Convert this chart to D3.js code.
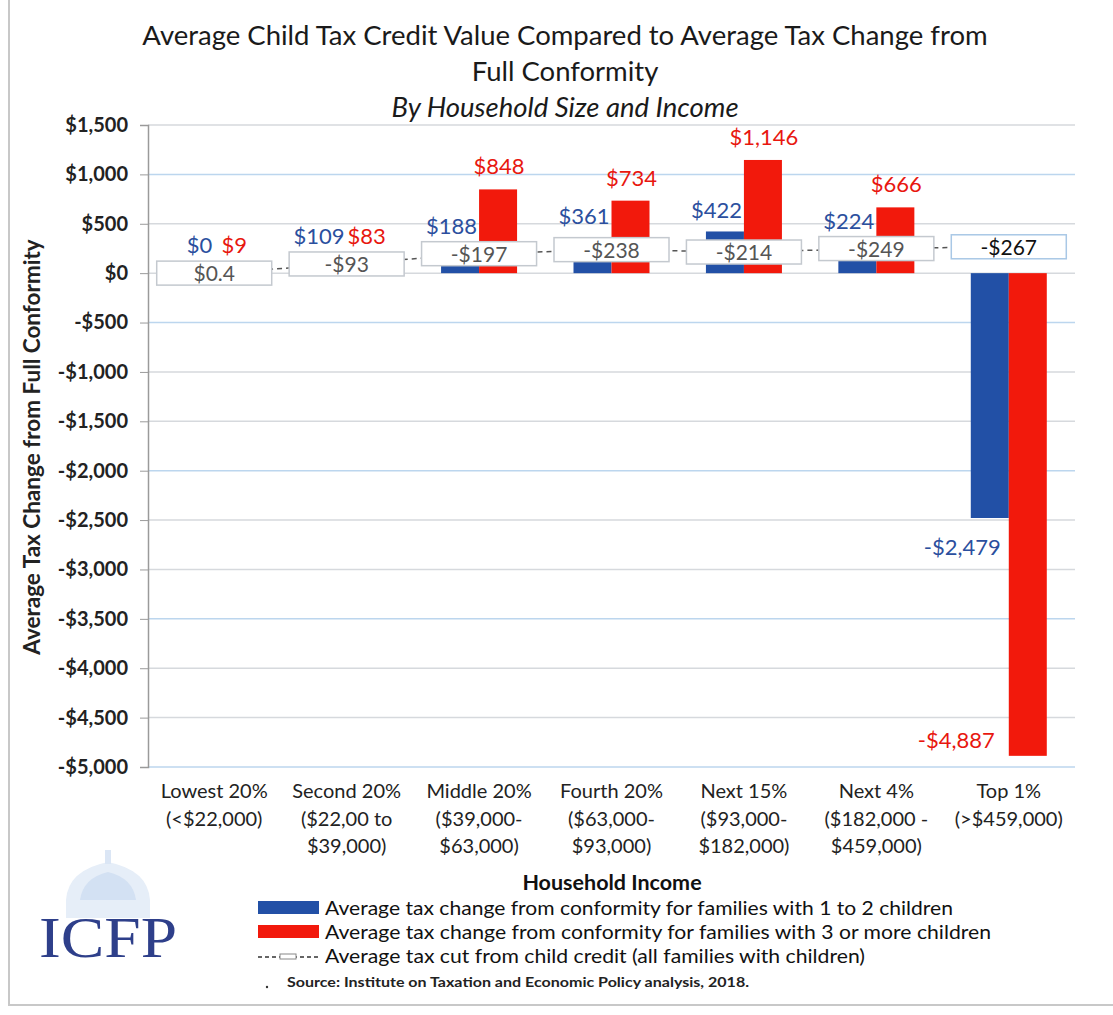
<!DOCTYPE html>
<html>
<head>
<meta charset="utf-8">
<script src="https://cdn.jsdelivr.net/npm/d3@7"></script>
<style>
    body { margin: 0; background: #fff; }
</style>
</head>
<body>
<script>

    // data
    var categories = ["Lowest 20%", "Second 20%", "Middle 20%", "Fourth 20%", "Next 15%", "Next 4%", "Top 1%"]
    var categoryLines = [
        ["Lowest 20%", "(<$22,000)"],
        ["Second 20%", "($22,00 to", "$39,000)"],
        ["Middle 20%", "($39,000-", "$63,000)"],
        ["Fourth 20%", "($63,000-", "$93,000)"],
        ["Next 15%", "($93,000-", "$182,000)"],
        ["Next 4%", "($182,000 -", "$459,000)"],
        ["Top 1%", "(>$459,000)"]
    ]
    var smallFamilies = [0, 109, 188, 361, 422, 224, -2479]
    var largeFamilies = [9, 83, 848, 734, 1146, 666, -4887]
    var creditCut = [0.4, -93, -197, -238, -214, -249, -267]
    var yTicks = [1500, 1000, 500, 0, -500, -1000, -1500, -2000, -2500, -3000, -3500, -4000, -4500, -5000]

    var blue = "#2250a6", red = "#f2190c"
    var blueText = "#2b4f9e", redText = "#e8170f"
    var font = "Lato, 'Open Sans', sans-serif"

    var width = 1113, height = 1015
    var plotLeft = 148, plotRight = 1075, plotTop = 125, plotBottom = 767

    var svg = d3.select("body").append("svg")
        .attr("width", width)
        .attr("height", height)
        .style("font-family", font)

    // scan frame
    svg.append("path")
        .attr("d", "M9,0 V1005 H1113")
        .attr("fill", "none")
        .attr("stroke", "#c8c8c8")
        .attr("stroke-width", 2)

    var y = d3.scaleLinear().domain([-5000, 1500]).range([plotBottom, plotTop])
    var x = d3.scaleBand().domain(categories).range([plotLeft, plotRight]).padding(0)
    var bw = x.bandwidth()
    var x1 = d3.scaleBand().domain(["small", "large"]).range([bw / 2 - 38, bw / 2 + 38])

    function money(v) {
        var s = Math.abs(v) < 1 ? "$" + Math.abs(v) : "$" + d3.format(",")(Math.abs(v))
        return (v < 0 ? "-" : "") + s
    }

    // titles
    svg.append("text").attr("x", 565).attr("y", 45).attr("text-anchor", "middle")
        .attr("font-size", 27.5).attr("fill", "#1a1a1a")
        .text("Average Child Tax Credit Value Compared to Average Tax Change from")
    svg.append("text").attr("x", 565).attr("y", 81).attr("text-anchor", "middle")
        .attr("font-size", 27.5).attr("fill", "#1a1a1a")
        .text("Full Conformity")
    svg.append("text").attr("x", 565).attr("y", 117).attr("text-anchor", "middle")
        .attr("font-size", 27.5).attr("font-style", "italic").attr("fill", "#1a1a1a")
        .text("By Household Size and Income")

    // gridlines
    svg.append("g").selectAll("line")
        .data(yTicks)
        .enter().append("line")
        .attr("x1", plotLeft).attr("x2", plotRight)
        .attr("y1", function (d) { return y(d) }).attr("y2", function (d) { return y(d) })
        .attr("stroke", function (d, i) { return i % 3 == 1 ? "#bcd6ee" : "#d6d9dd" })
        .attr("stroke-width", 1.5)

    // y axis
    var yAxis = d3.axisLeft(y).tickValues(yTicks).tickSize(8).tickPadding(12).tickFormat(money)
    var ya = svg.append("g").attr("transform", "translate(" + plotLeft + ",0)").call(yAxis)
    ya.select(".domain").attr("stroke", "#9a9a9a").attr("stroke-width", 1.5)
    ya.selectAll(".tick line").attr("stroke", "#9a9a9a")
    ya.selectAll(".tick text")
        .attr("font-family", font)
        .attr("font-size", 20).attr("font-weight", "bold").attr("fill", "#222")

    svg.append("text")
        .attr("transform", "translate(40," + 447 + ") rotate(-90)")
        .attr("text-anchor", "middle").attr("font-size", 22.5).attr("font-weight", "bold")
        .attr("fill", "#222")
        .text("Average Tax Change from Full Conformity")

    // bars
    var series = [{ key: "small", values: smallFamilies, color: blue },
                  { key: "large", values: largeFamilies, color: red }]
    series.forEach(function (s) {
        svg.append("g").selectAll("rect")
            .data(s.values)
            .enter().append("rect")
            .attr("x", function (d, i) { return x(categories[i]) + x1(s.key) })
            .attr("width", x1.bandwidth())
            .attr("y", function (d) { return y(Math.max(0, d)) })
            .attr("height", function (d) { return Math.abs(y(d) - y(0)) })
            .attr("fill", s.color)
    })

    // child credit line, drawn as magnitude with boxed labels
    var boxW = 115, boxH = 24
    var pts = creditCut.map(function (d, i) {
        return [x(categories[i]) + bw / 2, y(Math.abs(d))]
    })
    svg.append("path")
        .attr("d", d3.line()(pts))
        .attr("fill", "none")
        .attr("stroke", "#555")
        .attr("stroke-width", 1.5)
        .attr("stroke-dasharray", "5,4")

    var boxes = svg.append("g").selectAll("g")
        .data(creditCut)
        .enter().append("g")
        .attr("transform", function (d, i) { return "translate(" + pts[i][0] + "," + pts[i][1] + ")" })
    boxes.append("rect")
        .attr("x", -boxW / 2).attr("y", -boxH / 2)
        .attr("width", boxW).attr("height", boxH)
        .attr("fill", "#fff")
        .attr("stroke", function (d, i) { return i == 6 ? "#a9c8e6" : "#c4c9cf" })
        .attr("stroke-width", 1.5)
    boxes.append("text")
        .attr("text-anchor", "middle").attr("y", 8)
        .attr("font-size", 21)
        .attr("fill", function (d, i) { return i == 6 ? "#111" : "#555" })
        .text(function (d) { return money(d) })

    // value labels
    svg.append("g").selectAll("text")
        .data(smallFamilies)
        .enter().append("text")
        .attr("text-anchor", "end")
        .attr("x", function (d, i) {
            if (d < 0) return x(categories[i]) + x1("large") - 8
            return x(categories[i]) + x1("large") - 2
        })
        .attr("y", function (d, i) {
            if (d < 0) return y(d) + 37
            return Math.min(y(d) - 13, pts[i][1] - boxH / 2 - 8)
        })
        .attr("font-size", 22).attr("fill", blueText)
        .text(function (d) { return money(d) })

    svg.append("g").selectAll("text")
        .data(largeFamilies)
        .enter().append("text")
        .attr("text-anchor", function (d) { return d < 0 ? "end" : "middle" })
        .attr("x", function (d, i) {
            if (d < 0) return x(categories[i]) + x1("large") - 14
            return x(categories[i]) + x1("large") + x1.bandwidth() / 2 + 1
        })
        .attr("y", function (d, i) {
            if (d < 0) return y(d) - 8
            return Math.min(y(d) - 15, pts[i][1] - boxH / 2 - 8)
        })
        .attr("font-size", 22).attr("fill", redText)
        .text(function (d) { return money(d) })

    // x category labels
    var xl = svg.append("g").selectAll("text")
        .data(categoryLines)
        .enter().append("text")
        .attr("text-anchor", "middle")
        .attr("font-size", 20).attr("fill", "#222")
        .attr("x", function (d, i) { return x(categories[i]) + bw / 2 })
        .attr("y", 798)
    xl.selectAll("tspan")
        .data(function (d) { return d })
        .enter().append("tspan")
        .attr("x", function () { return d3.select(this.parentNode).attr("x") })
        .attr("dy", function (d, j) { return j == 0 ? 0 : 27.5 })
        .text(function (d) { return d })

    // legend
    svg.append("text").attr("x", 612).attr("y", 890).attr("text-anchor", "middle")
        .attr("font-size", 21.5).attr("font-weight", "bold").attr("fill", "#111")
        .text("Household Income")

    var legendItems = [
        { label: "Average tax change from conformity for families with 1 to 2 children", color: blue, len: 628 },
        { label: "Average tax change from conformity for families with 3 or more children", color: red, len: 666 },
        { label: "Average tax cut from child credit (all families with children)", color: null, len: 540 }
    ]
    var lg = svg.append("g").selectAll("g")
        .data(legendItems)
        .enter().append("g")
        .attr("transform", function (d, i) { return "translate(258," + (908 + i * 24) + ")" })
    lg.each(function (d) {
        var g = d3.select(this)
        if (d.color) {
            g.append("rect").attr("x", 0).attr("y", -7).attr("width", 61).attr("height", 13).attr("fill", d.color)
        } else {
            g.append("line").attr("x1", 0).attr("x2", 61).attr("y1", 1).attr("y2", 1)
                .attr("stroke", "#333").attr("stroke-width", 1.5).attr("stroke-dasharray", "4,3")
            g.append("rect").attr("x", 22).attr("y", -2).attr("width", 16).attr("height", 5)
                .attr("fill", "#fff").attr("stroke", "#888")
        }
        g.append("text").attr("x", 67).attr("y", 7)
            .attr("font-size", 20).attr("fill", "#111")
            .attr("textLength", d.len).attr("lengthAdjust", "spacingAndGlyphs")
            .text(d.label)
    })

    svg.append("text").attr("x", 287).attr("y", 987)
        .attr("font-size", 13).attr("font-weight", "bold").attr("fill", "#222")
        .attr("textLength", 462).attr("lengthAdjust", "spacingAndGlyphs")
        .text("Source: Institute on Taxation and Economic Policy analysis, 2018.")
    svg.append("circle").attr("cx", 267).attr("cy", 987).attr("r", 1.2).attr("fill", "#333")

    // ICFP logo with faint capitol dome
    var logo = svg.append("g").attr("transform", "translate(108,0)")
    logo.append("path")
        .attr("d", "M-42,918 L-42,900 Q-40,870 0,862 Q40,870 42,900 L42,918 Z")
        .attr("fill", "#e6eef8")
    logo.append("path")
        .attr("d", "M-28,900 Q-25,878 0,872 Q25,878 28,900 Z")
        .attr("fill", "#d3e1f3")
    logo.append("rect").attr("x", -3).attr("y", 850).attr("width", 6).attr("height", 14)
        .attr("fill", "#dbe6f5")
    svg.append("text").attr("x", 108).attr("y", 957).attr("text-anchor", "middle")
        .style("font-family", "'Liberation Serif', 'DejaVu Serif', serif")
        .attr("font-size", 56).attr("fill", "#2e3f8a")
        .attr("textLength", 138).attr("lengthAdjust", "spacingAndGlyphs")
        .text("ICFP")

</script>
</body>
</html>
